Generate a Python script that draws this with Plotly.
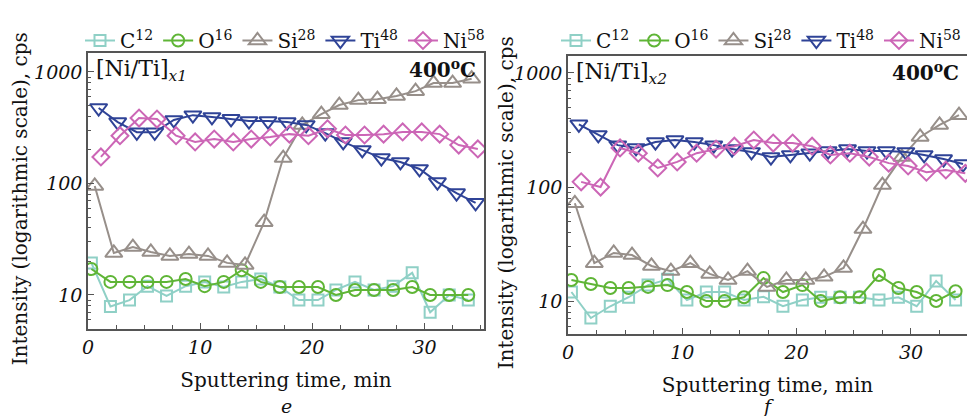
import plotly.graph_objects as go

# ---------------- data ----------------
T = [0.3, 2.0, 3.7, 5.3, 7.0, 8.7, 10.4, 12.1, 13.7, 15.4, 17.1,
     18.8, 20.5, 22.1, 23.8, 25.5, 27.2, 28.9, 30.5, 32.2, 33.9]
SHIFT = {"C": 0.0, "O": 0.0, "Si": 0.3, "Ti": 0.65, "Ni": 0.85}

# panel e  [Ni/Ti]x1
C_e = [19.4, 7.9, 9.0, 12.0, 9.8, 12.0, 13.1, 11.8, 13.1, 13.9, 11.8,
       9.0, 9.0, 11.1, 13.1, 11.1, 12.0, 15.8, 7.0, 10.0, 9.0]
O_e = [17.1, 13.1, 13.1, 13.1, 13.1, 13.9, 12.0, 13.1, 16.7, 13.1, 11.8,
       11.8, 11.8, 10.0, 11.1, 11.1, 11.1, 11.8, 10.0, 10.0, 10.0]
Si_e = [95, 23.8, 26.9, 24.3, 22.4, 23.3, 22.4, 19.4, 18.6, 45, 169,
        335, 418, 505, 559, 570, 609, 673, 795, 795, 870]
Ti_e = [475, 355, 288, 288, 371, 410, 395, 380, 363, 363, 355,
        335, 283, 236, 200, 169, 156, 135, 103, 82, 67]
Ni_e = [173, 268, 386, 378, 268, 236, 250, 236, 250, 261, 277,
        268, 309, 272, 272, 277, 290, 290, 277, 221, 204]

# panel f  [Ni/Ti]x2
C_f = [12.0, 7.1, 9.0, 10.8, 13.8, 15.5, 10.2, 12.0, 12.0, 10.2, 10.9,
       9.0, 10.2, 10.8, 10.8, 10.8, 10.2, 10.8, 9.0, 15.0, 10.2]
O_f = [15.3, 14.1, 13.0, 13.0, 13.3, 13.8, 12.0, 10.0, 10.0, 10.8, 15.9,
       12.0, 13.8, 10.0, 10.8, 10.8, 16.9, 13.0, 12.0, 10.0, 12.2]
Si_f = [72, 21.5, 26.4, 25.3, 20.3, 18.3, 21.5, 17.3, 15.3, 18.3, 13.3,
        15.3, 15.3, 16.3, 19.5, 42.8, 104, 183, 275, 350, 427]
Ti_f = [355, 286, 233, 220, 248, 258, 248, 233, 215, 203, 183,
        191, 198, 207, 215, 207, 207, 203, 191, 176, 159]
Ni_f = [111, 100, 220, 198, 147, 166, 198, 215, 228, 258, 243,
        243, 228, 191, 198, 183, 162, 153, 135, 141, 132]

ELEMENTS = ["C", "O", "Si", "Ti", "Ni"]
LABELS = ["C<sup>12</sup>", "O<sup>16</sup>", "Si<sup>28</sup>", "Ti<sup>48</sup>", "Ni<sup>58</sup>"]
X_TICKS = [0, 10, 20, 30]
Y_TICKS = [10, 100, 1000]

# ---------------- style ----------------
COLORS = {"C": "#8fd0c6", "O": "#5fb536", "Si": "#978f8a", "Ti": "#2f4397", "Ni": "#cc66b6"}
SYMBOLS = {"C": "square-open", "O": "circle-open", "Si": "triangle-up-open",
           "Ti": "triangle-down-open", "Ni": "diamond-open"}
SIZES = {"C": 11, "O": 12, "Si": 15, "Ti": 15, "Ni": 13}
FONT = "DejaVu Serif"
AX = "#555555"

fig = go.Figure()

panels = [
    ("x", "y", "legend", {"C": C_e, "O": O_e, "Si": Si_e, "Ti": Ti_e, "Ni": Ni_e}),
    ("x2", "y2", "legend2", {"C": C_f, "O": O_f, "Si": Si_f, "Ti": Ti_f, "Ni": Ni_f}),
]
for xa, ya, lg, data in panels:
    for el, lab in zip(ELEMENTS, LABELS):
        fig.add_trace(go.Scatter(
            x=[t + SHIFT[el] for t in T], y=data[el], name=lab,
            xaxis=xa, yaxis=ya, legend=lg, mode="lines+markers",
            line=dict(color=COLORS[el], width=2),
            marker=dict(symbol=SYMBOLS[el], size=SIZES[el], color=COLORS[el],
                        line=dict(width=2, color=COLORS[el])),
        ))

minor_y = [k * 10 ** n for n in range(0, 4) for k in range(2, 10)]

def xaxis_cfg(domain, rng):
    return dict(domain=domain, range=rng, showline=True, linecolor=AX, linewidth=1.5,
                mirror=True, ticks="inside", ticklen=6, tickcolor=AX, tickwidth=1.2,
                tickvals=X_TICKS, ticktext=[str(v) for v in X_TICKS],
                tickfont=dict(family=FONT, size=19, style="italic", color="#111"),
                minor=dict(dtick=2.5, ticks="inside", ticklen=4, tickcolor=AX, showgrid=False),
                showgrid=False, zeroline=False, automargin=False,
                title=dict(text="Sputtering time, min", font=dict(family=FONT, size=20, color="#111"),
                           standoff=16))

def yaxis_cfg(domain, rng, anchor):
    return dict(domain=domain, type="log", range=rng, anchor=anchor, showline=True,
                linecolor=AX, linewidth=1.5, mirror=True, ticks="inside", ticklen=6,
                tickcolor=AX, tickwidth=1.2, tickvals=Y_TICKS, ticktext=[str(v) for v in Y_TICKS],
                tickfont=dict(family=FONT, size=19, style="italic", color="#111"),
                minor=dict(tickvals=minor_y, ticks="inside", ticklen=3, tickcolor=AX, showgrid=False),
                showgrid=False, zeroline=False, automargin=False)

W, H = 967, 416
fig.update_layout(
    width=W, height=H, margin=dict(l=0, r=0, t=0, b=0),
    paper_bgcolor="white", plot_bgcolor="white",
    font=dict(family=FONT, color="#111"),
    xaxis=xaxis_cfg([88 / W, 484 / W], [0, 35.3]) | dict(anchor="y"),
    yaxis=yaxis_cfg([1 - 329 / H, 1 - 53 / H], [0.695, 3.17], "x"),
    xaxis2=xaxis_cfg([568 / W, 1.0], [0, 34.9]) | dict(anchor="y2"),
    yaxis2=yaxis_cfg([1 - 334 / H, 1 - 56 / H], [0.711, 3.149], "x2"),
    legend=dict(orientation="h", x=80 / W, xanchor="left", y=1 - 21 / H, yanchor="top",
                font=dict(family=FONT, size=20, color="#111"), bgcolor="rgba(0,0,0,0)",
                itemwidth=30, tracegroupgap=0),
    legend2=dict(orientation="h", x=556 / W, xanchor="left", y=1 - 21 / H, yanchor="top",
                 font=dict(family=FONT, size=20, color="#111"), bgcolor="rgba(0,0,0,0)",
                 itemwidth=30, tracegroupgap=0),
    showlegend=True,
)

ann = []
for xr, yr, sub, panel, lx, tx in [("x", "y", "x1", "e", 0.5 * (88 + 484) / W, 20 / W),
                                    ("x2", "y2", "x2", "f", 0.5 * (568 + 967) / W, 506 / W)]:
    ann.append(dict(xref=f"{xr} domain", yref=f"{yr} domain", x=0.015, y=0.995,
                    xanchor="left", yanchor="top", showarrow=False,
                    text=f"[Ni/Ti]<sub><i>{sub}</i></sub>",
                    font=dict(family=FONT, size=22, color="#111")))
    ann.append(dict(xref=f"{xr} domain", yref=f"{yr} domain", x=0.985, y=0.995,
                    xanchor="right", yanchor="top", showarrow=False,
                    text="<b>400<sup>o</sup>C</b>",
                    font=dict(family=FONT, size=20, color="#111")))
    ann.append(dict(xref="paper", yref="paper", x=lx, y=1 - 406 / H, xanchor="center",
                    yanchor="middle", showarrow=False, text=f"<i>{panel}</i>",
                    font=dict(family=FONT, size=19, color="#111")))
    ann.append(dict(xref="paper", yref=f"{yr} domain", x=tx, y=0.47, xanchor="center",
                    yanchor="middle", showarrow=False, textangle=-90,
                    text="Intensity (logarithmic scale), cps",
                    font=dict(family=FONT, size=20, color="#111")))
fig.update_layout(annotations=ann)

fig.write_html("out.html", config={"displayModeBar": False},
               post_script="document.body.style.margin='0px';document.body.style.overflow='hidden';")
